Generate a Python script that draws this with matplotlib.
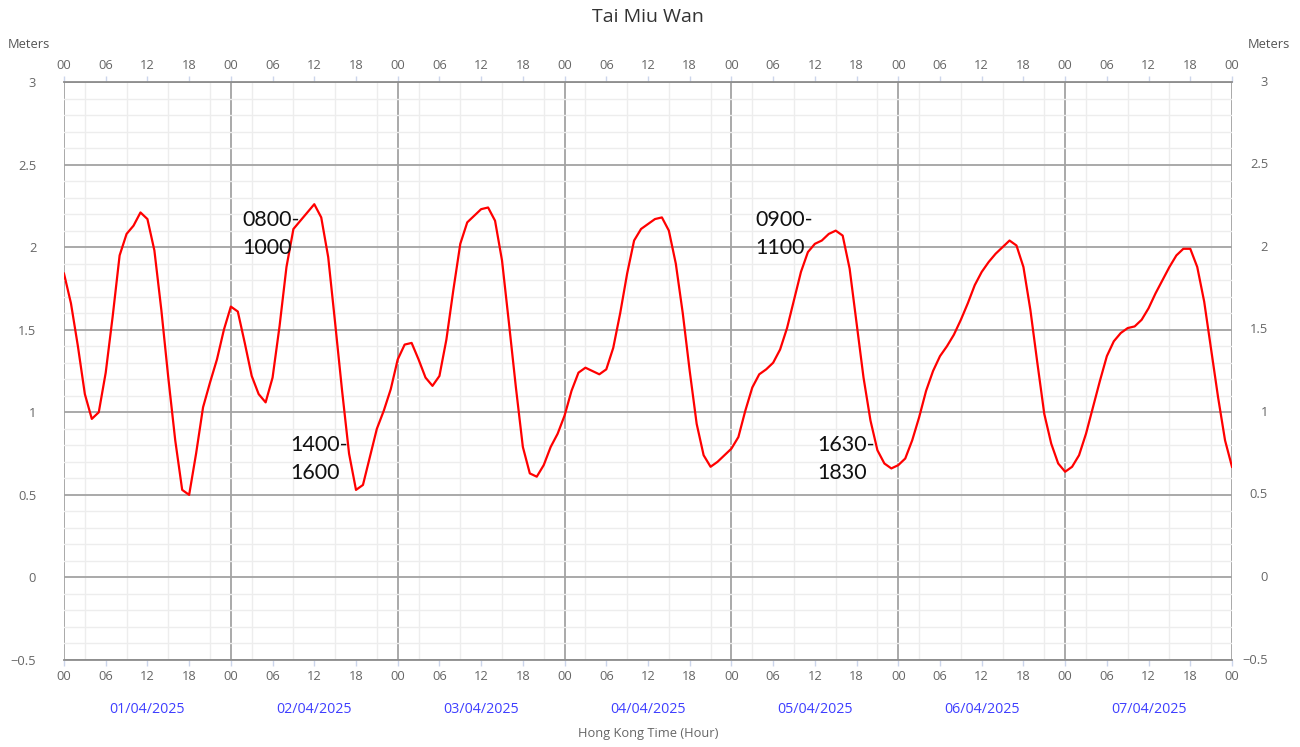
import matplotlib
matplotlib.use("Agg")
import matplotlib.pyplot as plt
from matplotlib.ticker import MultipleLocator
import numpy as np

# Hourly tide height (m), 01/04/2025 00:00 to 08/04/2025 00:00
tide_m = [
    # 01/04
    1.84, 1.66, 1.40, 1.11, 0.96, 1.00, 1.24, 1.58, 1.95, 2.08, 2.13, 2.21,
    2.17, 1.98, 1.62, 1.21, 0.83, 0.53, 0.50, 0.75, 1.03, 1.18, 1.32, 1.50,
    # 02/04
    1.64, 1.61, 1.42, 1.22, 1.11, 1.06, 1.21, 1.52, 1.88, 2.11, 2.16, 2.21,
    2.26, 2.18, 1.94, 1.54, 1.13, 0.75, 0.53, 0.56, 0.73, 0.90, 1.01, 1.14,
    # 03/04
    1.32, 1.41, 1.42, 1.32, 1.21, 1.16, 1.22, 1.44, 1.74, 2.02, 2.15, 2.19,
    2.23, 2.24, 2.16, 1.92, 1.54, 1.15, 0.79, 0.63, 0.61, 0.68, 0.79, 0.87,
    # 04/04
    0.98, 1.13, 1.24, 1.27, 1.25, 1.23, 1.26, 1.39, 1.60, 1.84, 2.04, 2.11,
    2.14, 2.17, 2.18, 2.10, 1.90, 1.60, 1.25, 0.93, 0.74, 0.67, 0.70, 0.74,
    # 05/04
    0.78, 0.85, 1.01, 1.15, 1.23, 1.26, 1.30, 1.38, 1.51, 1.68, 1.85, 1.97,
    2.02, 2.04, 2.08, 2.10, 2.07, 1.87, 1.54, 1.21, 0.95, 0.77, 0.69, 0.66,
    # 06/04
    0.68, 0.72, 0.83, 0.97, 1.13, 1.25, 1.34, 1.40, 1.47, 1.56, 1.66, 1.77,
    1.85, 1.91, 1.96, 2.00, 2.04, 2.01, 1.88, 1.62, 1.30, 0.99, 0.81, 0.69,
    # 07/04
    0.64, 0.67, 0.74, 0.87, 1.03, 1.19, 1.34, 1.43, 1.48, 1.51, 1.52, 1.56,
    1.63, 1.72, 1.80, 1.88, 1.95, 1.99, 1.99, 1.88, 1.67, 1.38, 1.09, 0.83,
    # 08/04 00:00
    0.67,
]
hours = np.arange(len(tide_m))

dates = ["01/04/2025", "02/04/2025", "03/04/2025", "04/04/2025",
         "05/04/2025", "06/04/2025", "07/04/2025"]
hour_labels = ["00", "06", "12", "18"]
y_ticks = [3, 2.5, 2, 1.5, 1, 0.5, 0, -0.5]
y_tick_labels = ["3", "2.5", "2", "1.5", "1", "0.5", "0", "−0.5"]

# Highlighted time windows: (label, hour position, height)
notes = [
    ("0800-\n1000", 25.6, 2.08),
    ("1400-\n1600", 32.5, 0.715),
    ("0900-\n1100", 99.5, 2.08),
    ("1630-\n1830", 108.4, 0.715),
]

plt.rcParams['font.family'] = ['Open Sans', 'DejaVu Sans']

W, H = 1300, 747
fig = plt.figure(figsize=(W / 100, H / 100), dpi=100)
ax = fig.add_axes([64 / W, 1 - 660 / H, 1168 / W, 578 / H])

n_days = len(dates)
ax.set_xlim(0, 24 * n_days)
ax.set_ylim(-0.5, 3)

TXT = "#666666"
GRID = "#a3a3a3"
MINOR = "#ededed"
FS = 9.3

# minor grid
ax.xaxis.set_minor_locator(MultipleLocator(3))
ax.yaxis.set_minor_locator(MultipleLocator(0.1))
ax.grid(which='minor', color=MINOR, lw=1.0, zorder=0)

# major horizontal grid
ax.set_yticks(y_ticks)
ax.yaxis.grid(True, which='major', color=GRID, lw=1.3, zorder=1)

# day separators
for d in range(n_days + 1):
    ax.axvline(24 * d, color=GRID, lw=1.3, zorder=1)

# x ticks every 6 hours on top and bottom
xt = np.arange(0, 24 * n_days + 1, 6)
ax.set_xticks(xt)
ax.set_xticklabels([hour_labels[(int(h) // 6) % 4] for h in xt])
ax.tick_params(axis='x', which='major', top=True, bottom=True,
               labeltop=True, labelbottom=True, direction='out',
               length=4, width=1, color="#ccd6eb", labelcolor=TXT,
               labelsize=FS, pad=3.5)
ax.tick_params(axis='x', which='minor', length=0, top=False, bottom=False)

# y labels on the left; right side drawn as text for right alignment
ax.set_yticklabels(y_tick_labels)
ax.tick_params(axis='y', which='both', length=0, labelcolor=TXT,
               labelsize=FS, pad=20)
for v, s in zip(y_ticks, y_tick_labels):
    ax.annotate(s, xy=(1, v), xycoords=('axes fraction', 'data'),
                xytext=(26, 0), textcoords='offset points',
                ha='right', va='center', fontsize=FS, color=TXT)

for side in ['left', 'right']:
    ax.spines[side].set_visible(False)
for side in ['top', 'bottom']:
    ax.spines[side].set_color("#8c8c8c")
    ax.spines[side].set_linewidth(1.3)

# tide curve
ax.plot(hours, tide_m, color="#ff0000", lw=1.6, zorder=5,
        solid_joinstyle='round')

# date labels under each day
for d, s in enumerate(dates):
    ax.annotate(s, xy=(24 * d + 12, 0), xycoords=('data', 'axes fraction'),
                xytext=(0, -35.5), textcoords='offset points',
                ha='center', va='center', fontsize=10.3, color="#3f3fff")

# window notes
for s, x, y in notes:
    ax.text(x, y, s, ha='left', va='center', fontsize=15.5,
            family=['Lato', 'DejaVu Sans'], color="#111111",
            linespacing=1.5, zorder=6)

fig.text(648 / W, 1 - 17 / H, "Tai Miu Wan", ha='center', va='center',
         fontsize=14, color="#333333")
fig.text(648 / W, 1 - 734 / H, "Hong Kong Time (Hour)",
         ha='center', va='center', fontsize=FS, color=TXT)
fig.text(29 / W, 1 - 45 / H, "Meters", ha='center', va='center',
         fontsize=FS, color="#555555")
fig.text(1269 / W, 1 - 45 / H, "Meters", ha='center', va='center',
         fontsize=FS, color="#555555")

fig.savefig("out.png", dpi=100, facecolor='white')
